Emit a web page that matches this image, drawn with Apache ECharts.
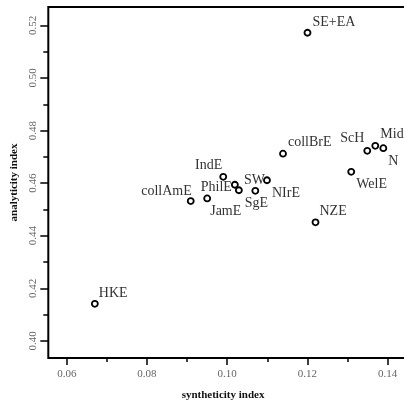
<!DOCTYPE html>
<html>
<head>
<meta charset="utf-8">
<script src="https://cdn.jsdelivr.net/npm/echarts@6/dist/echarts.min.js"></script>
<style>
  html, body { margin: 0; padding: 0; background: #fff; }
  #chart { width: 404px; height: 403px; }
</style>
</head>
<body>
<div id="chart"></div>
<script>
// varieties of English: syntheticity vs analyticity index
const names = ['SE+EA', 'collBrE', 'ScH', 'Mid', 'N', 'WelE', 'NZE', 'HKE',
  'IndE', 'collAmE', 'PhilE', 'SW', 'SgE', 'NIrE', 'JamE']
const synth = [0.120, 0.1139, 0.1349, 0.1369, 0.1389, 0.1309, 0.1220, 0.0670,
  0.0990, 0.0909, 0.1019, 0.1029, 0.1070, 0.1099, 0.0950]
const analyt = [0.5172, 0.4712, 0.4723, 0.4742, 0.4733, 0.4643, 0.4451, 0.4141,
  0.4624, 0.4532, 0.4594, 0.4573, 0.4571, 0.4611, 0.4542]

const xTicks = [0.06, 0.08, 0.10, 0.12, 0.14]
const xMinor = [0.07, 0.09, 0.11, 0.13]
const yTicks = [0.40, 0.42, 0.44, 0.46, 0.48, 0.50, 0.52]
const yMinor = [0.41, 0.43, 0.45, 0.47, 0.49, 0.51]

// where each label sits relative to its point: anchor, dx, dy
const place = {
  'SE+EA': ['left', 5, -10], collBrE: ['left', 5, -11], ScH: ['right', -3, -12],
  Mid: ['left', 5, -11], N: ['left', 5, 13], WelE: ['left', 5, 12],
  NZE: ['left', 4, -11], HKE: ['left', 4, -11], IndE: ['right', -1, -12],
  collAmE: ['right', 1, -10], PhilE: ['right', -3, 3], SW: ['left', 5, -10],
  SgE: ['center', 1, 13], NIrE: ['left', 5, 13], JamE: ['left', 3, 13],
}

const serif = '"Liberation Serif", "DejaVu Serif", serif'
const X = [0.0554, 0.146]
const Y = [0.3935, 0.527]

const chart = echarts.init(document.getElementById('chart'))

const tickOnly = (len, vals) => ({ show: true, length: len, customValues: vals, lineStyle: { color: '#000', width: 1.5 } })

// plot box runs past the right edge of the picture, like the cropped original
chart.setOption({
  animation: false,
  textStyle: { fontFamily: serif },
  grid: {
    left: 48.3, width: 363.5, top: 7, height: 351, outerBoundsMode: 'none', containLabel: false,
    show: true, borderColor: '#000', borderWidth: 2, backgroundColor: 'transparent',
  },
  xAxis: [{
    type: 'value', min: X[0], max: X[1],
    name: 'syntheticity index', nameLocation: 'middle', nameGap: 32,
    nameTextStyle: { fontFamily: serif, fontWeight: 'bold', fontSize: 11, color: '#111', padding: [0, 14, 0, 0] },
    axisLine: { show: false }, splitLine: { show: false },
    axisTick: tickOnly(7, xTicks),
    axisLabel: { customValues: xTicks, formatter: (v) => v.toFixed(2), margin: 11, fontSize: 11, color: '#666', fontFamily: serif },
  }, {
    type: 'value', min: X[0], max: X[1], position: 'bottom',
    axisLine: { show: false }, splitLine: { show: false },
    axisTick: tickOnly(4, xMinor), axisLabel: { show: false },
  }],
  yAxis: [{
    type: 'value', min: Y[0], max: Y[1],
    name: 'analyticity index', nameLocation: 'middle', nameGap: 27,
    nameTextStyle: { fontFamily: serif, fontWeight: 'bold', fontSize: 11, color: '#111' },
    axisLine: { show: false }, splitLine: { show: false },
    axisTick: tickOnly(8, yTicks),
    axisLabel: { customValues: yTicks, formatter: (v) => v.toFixed(2), rotate: 90, margin: 10, fontSize: 11, color: '#666', fontFamily: serif },
  }, {
    type: 'value', min: Y[0], max: Y[1], position: 'left',
    axisLine: { show: false }, splitLine: { show: false },
    axisTick: tickOnly(5, yMinor), axisLabel: { show: false },
  }],
  series: [{
    type: 'scatter',
    symbol: 'circle', symbolSize: 6,
    itemStyle: { color: '#fff', borderColor: '#000', borderWidth: 1.8, opacity: 1 },
    data: names.map((n, i) => {
      const p = place[n]
      return {
        name: n, value: [synth[i], analyt[i]],
        label: {
          show: true, position: 'inside', align: p[0], verticalAlign: 'middle',
          offset: [p[1], p[2]], formatter: n,
          fontFamily: serif, fontSize: 14, color: '#333',
        },
      }
    }),
  }],
})
</script>
</body>
</html>
